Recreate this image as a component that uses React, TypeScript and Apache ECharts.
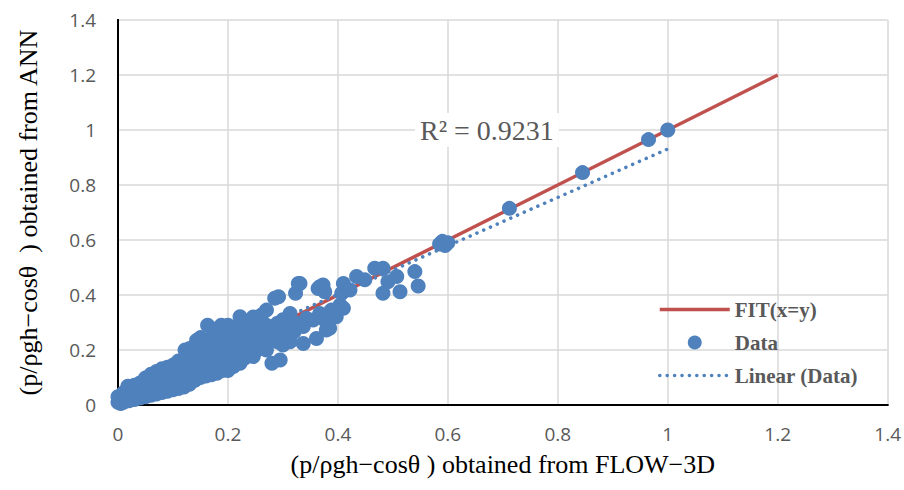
import React, { useEffect, useRef } from "react";
import * as echarts from "echarts";

const seriesNames = ["FIT(x=y)", "Data", "Linear (Data)"];
const xTitle = "(p/ρgh−cosθ ) obtained from FLOW−3D";
const yTitle = "(p/ρgh−cosθ  ) obtained from ANN";
const rSquaredLabel = "R² = 0.9231";

const fitX = [0, 1.2];
const fitY = [0, 1.2];

const trendX = [0, 1.0];
const trendY = [0.05, 0.931];

const dataPoints: [number, number][] = [
  [0.0, 0.01], [0.0, 0.03], [0.005, 0.005], [0.005, 0.025],
  [0.01, 0.01], [0.01, 0.03], [0.01, 0.045],
  [0.015, 0.015], [0.015, 0.04], [0.018, 0.068],
  [0.02, 0.015], [0.02, 0.04], [0.02, 0.06],
  [0.03, 0.02], [0.03, 0.045], [0.03, 0.072],
  [0.04, 0.025], [0.04, 0.05], [0.04, 0.08],
  [0.05, 0.03], [0.05, 0.055], [0.05, 0.075], [0.05, 0.098],
  [0.06, 0.035], [0.06, 0.06], [0.06, 0.085], [0.06, 0.112],
  [0.07, 0.04], [0.07, 0.065], [0.07, 0.09], [0.07, 0.122],
  [0.08, 0.045], [0.08, 0.07], [0.08, 0.1], [0.08, 0.132],
  [0.09, 0.05], [0.09, 0.075], [0.09, 0.105], [0.09, 0.137],
  [0.1, 0.055], [0.1, 0.08], [0.1, 0.11], [0.1, 0.145],
  [0.11, 0.06], [0.11, 0.09], [0.11, 0.12], [0.11, 0.16],
  [0.12, 0.065], [0.12, 0.095], [0.12, 0.13], [0.12, 0.165], [0.122, 0.2],
  [0.13, 0.075], [0.13, 0.105], [0.13, 0.135], [0.13, 0.17], [0.13, 0.205],
  [0.14, 0.09], [0.14, 0.115], [0.14, 0.145], [0.14, 0.18], [0.143, 0.235],
  [0.15, 0.1], [0.15, 0.125], [0.15, 0.155], [0.15, 0.19], [0.15, 0.245],
  [0.16, 0.105], [0.16, 0.135], [0.16, 0.165], [0.16, 0.2], [0.16, 0.235], [0.163, 0.29],
  [0.17, 0.11], [0.17, 0.14], [0.17, 0.17], [0.17, 0.205], [0.17, 0.245], [0.175, 0.275],
  [0.18, 0.115], [0.18, 0.145], [0.18, 0.18], [0.18, 0.215], [0.18, 0.255], [0.188, 0.29],
  [0.19, 0.125], [0.19, 0.155], [0.19, 0.19], [0.19, 0.225], [0.19, 0.26],
  [0.2, 0.125], [0.2, 0.16], [0.2, 0.195], [0.2, 0.23], [0.2, 0.265], [0.2, 0.29],
  [0.21, 0.14], [0.21, 0.175], [0.21, 0.21], [0.21, 0.245], [0.21, 0.28],
  [0.222, 0.152], [0.22, 0.185], [0.22, 0.22], [0.22, 0.255], [0.22, 0.29], [0.222, 0.321],
  [0.23, 0.17], [0.23, 0.205], [0.23, 0.24], [0.23, 0.27], [0.234, 0.3],
  [0.24, 0.185], [0.246, 0.176], [0.24, 0.215], [0.24, 0.25], [0.24, 0.285], [0.246, 0.32],
  [0.25, 0.195], [0.25, 0.225], [0.25, 0.26], [0.25, 0.295],
  [0.26, 0.205], [0.26, 0.24], [0.26, 0.275], [0.261, 0.327],
  [0.27, 0.2], [0.27, 0.25], [0.27, 0.29], [0.27, 0.345],
  [0.28, 0.152], [0.28, 0.24], [0.28, 0.273], [0.285, 0.388],
  [0.295, 0.164], [0.29, 0.23], [0.297, 0.273], [0.29, 0.297], [0.292, 0.394],
  [0.3, 0.218], [0.3, 0.26], [0.3, 0.31],
  [0.313, 0.23], [0.307, 0.297], [0.313, 0.333],
  [0.32, 0.265], [0.331, 0.297], [0.323, 0.406],
  [0.337, 0.224], [0.337, 0.285], [0.328, 0.442], [0.331, 0.442],
  [0.343, 0.315], [0.355, 0.309], [0.361, 0.242],
  [0.367, 0.333], [0.367, 0.43], [0.364, 0.424],
  [0.373, 0.436], [0.376, 0.309], [0.376, 0.412], [0.379, 0.273],
  [0.385, 0.279], [0.388, 0.345], [0.397, 0.321],
  [0.404, 0.364], [0.407, 0.406], [0.41, 0.352], [0.41, 0.442],
  [0.422, 0.418], [0.434, 0.467], [0.449, 0.455],
  [0.467, 0.497], [0.482, 0.497], [0.482, 0.406], [0.491, 0.448],
  [0.507, 0.467], [0.513, 0.412], [0.54, 0.485], [0.546, 0.433],
  [0.59, 0.595], [0.585, 0.585], [0.595, 0.58], [0.6, 0.59],
  [0.712, 0.715], [0.845, 0.845], [0.965, 0.965], [1.0, 1.0],
];

const BLUE = "#4F81BD";
const RED = "#C0504D";
const GREY_TEXT = "#595959";

export default function App() {
  const ref = useRef<HTMLDivElement>(null);

  useEffect(() => {
    if (!ref.current) return;
    const chart = echarts.init(ref.current, undefined, { renderer: "svg" });

    const baseAxis = {
      type: "value" as const,
      min: 0,
      max: 1.4,
      interval: 0.2,
      axisTick: { show: false },
      axisLine: { show: true, lineStyle: { color: "#000", width: 2 } },
      splitLine: { show: true, lineStyle: { color: "#d9d9d9", width: 1.5 } },
      axisLabel: {
        color: GREY_TEXT,
        fontFamily: "Open Sans",
        fontSize: 19,
        margin: 19,
      },
      nameLocation: "middle" as const,
      nameTextStyle: {
        fontFamily: "Liberation Serif",
        fontSize: 26,
        color: "#000",
      },
    };

    const frameAxis = {
      type: "value" as const,
      min: 0,
      max: 1.4,
      interval: 0.2,
      axisTick: { show: false },
      axisLabel: { show: false },
      splitLine: { show: false },
      axisLine: { show: true, lineStyle: { color: "#000", width: 2 } },
    };

    chart.setOption({
      animation: false,
      backgroundColor: "#fff",
      grid: { left: 118, right: 16, top: 20, bottom: 85 },
      xAxis: [
        { ...baseAxis, name: xTitle, nameGap: 46 },
        { ...frameAxis, position: "top" },
      ],
      yAxis: [
        { ...baseAxis, name: yTitle, nameGap: 77, axisLabel: { ...baseAxis.axisLabel, margin: 22 } },
        { ...frameAxis, position: "right" },
      ],
      legend: {
        orient: "vertical",
        left: 658,
        top: 299,
        padding: 0,
        itemWidth: 70,
        itemHeight: 14,
        itemGap: 12,
        lineStyle: { width: "inherit" },
        textStyle: {
          fontFamily: "Liberation Serif",
          fontWeight: "bold",
          fontSize: 21,
          color: GREY_TEXT,
        },
        data: [
          { name: seriesNames[0], itemStyle: { opacity: 0 } },
          { name: seriesNames[1] },
          { name: seriesNames[2], itemStyle: { opacity: 0 } },
        ],
      },
      graphic: [
        {
          type: "text",
          left: 415,
          top: 113,
          z: 10,
          style: {
            text: rSquaredLabel,
            font: '28px "Liberation Serif"',
            fill: GREY_TEXT,
            backgroundColor: "#fff",
            padding: [3, 5, 3, 5],
          },
        },
      ],
      series: [
        {
          name: seriesNames[0],
          type: "line",
          data: fitX.map((x, i) => [x, fitY[i]]),
          symbol: "none",
          lineStyle: { color: RED, width: 3.5 },
          itemStyle: { color: RED },
          z: 1,
        },
        {
          name: seriesNames[1],
          type: "scatter",
          data: dataPoints,
          symbol: "circle",
          symbolSize: 15,
          itemStyle: { color: BLUE, opacity: 1 },
          z: 2,
        },
        {
          name: seriesNames[2],
          type: "line",
          data: trendX.map((x, i) => [x, trendY[i]]),
          symbol: "none",
          lineStyle: { color: BLUE, width: 3.5, type: [0.1, 7.3], cap: "round" },
          itemStyle: { color: BLUE },
          z: 3,
        },
      ],
    });

    return () => chart.dispose();
  }, []);

  return (
    <div
      ref={ref}
      style={{ position: "fixed", left: 0, top: 0, width: 904, height: 490 }}
    />
  );
}
